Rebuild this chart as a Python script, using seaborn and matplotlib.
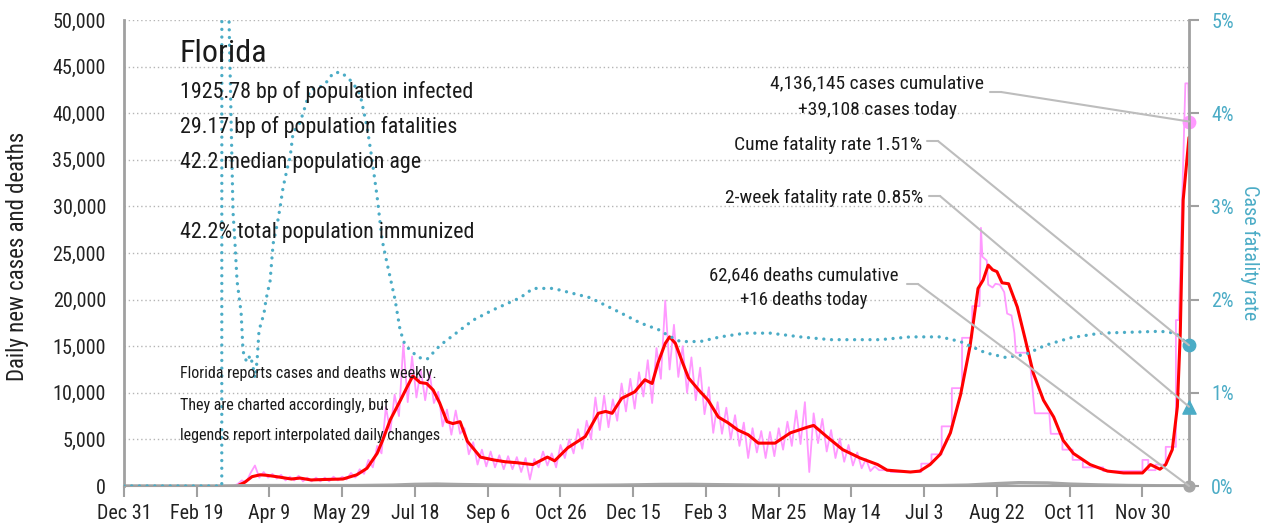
import numpy as np
import pandas as pd
import matplotlib
matplotlib.use("Agg")
import matplotlib.pyplot as plt
import seaborn as sns
from matplotlib import font_manager
from matplotlib.patches import ConnectionPatch
from matplotlib.ticker import StrMethodFormatter

# ---- data (days counted from Dec 31, 2019; case values in thousands) ----
x_tick_days = [0, 50, 100, 150, 200, 250, 300, 350, 400, 450, 500, 550, 600, 650, 700]
x_tick_labels = ["Dec 31", "Feb 19", "Apr 9", "May 29", "Jul 18", "Sep 6", "Oct 26",
                 "Dec 15", "Feb 3", "Mar 25", "May 14", "Jul 3", "Aug 22", "Oct 11", "Nov 30"]

# daily reported cases, every 3 days while reporting was daily
daily_cases_3d = [0] * 24 + [
    0, 0, 0.2, 0.6, 0.4, 1.4, 2.2, 0.9, 1.5, 0.9,
    1.3, 0.8, 1.2, 0.6, 1.0, 0.6, 1.1, 0.5, 0.9, 0.5,
    0.9, 0.5, 0.9, 0.5, 1.0, 0.6, 1.0, 0.7, 1.4, 0.9,
    1.8, 1.3, 2.8, 2.0, 4.3, 3.5, 8.5, 5.8, 9.8, 7.5,
    15.3, 9.0, 13.9, 9.5, 12.5, 9.2, 12.2, 8.9, 10.1, 6.4,
    8.2, 5.5, 8.1, 5.6, 6.2, 3.4, 4.7, 2.3, 3.9, 2.1,
    3.7, 2.0, 3.3, 1.8, 3.2, 1.8, 3.1, 1.5, 3.0, 0.7,
    2.9, 2.0, 3.7, 2.2, 3.5, 2.0, 4.4, 3.0, 5.0, 3.5,
    6.1, 4.0, 7.0, 5.0, 9.5, 6.0, 9.7, 6.3, 9.3, 7.0,
    11.0, 8.0, 11.5, 8.3, 12.2, 9.6, 13.5, 8.9, 14.8, 11.5,
    19.9, 12.5, 17.3, 11.7, 15.0, 10.0, 13.8, 9.2, 12.7, 7.7,
    10.6, 5.7, 9.0, 5.6, 8.4, 5.0, 7.6, 4.3, 6.8, 3.0,
    6.2, 3.6, 5.9, 3.0, 5.8, 3.2, 6.2, 3.9, 6.9, 4.3,
    8.1, 4.5, 9.0, 1.5, 7.8, 4.6, 7.2, 3.7, 6.0, 3.0,
    5.1, 2.6, 4.4, 2.2, 3.6, 1.9, 2.9,
]

# weekly reporting period (steps)
weekly_case_days = [513, 516, 519, 527, 527, 548, 548, 555, 555, 562,
                    562, 569, 569, 576, 576, 583, 583, 588, 589, 590,
                    593, 594, 597, 599, 602, 605, 607, 610, 612, 613,
                    622, 624, 626, 636, 637, 645, 645, 652, 652, 659,
                    659, 673, 673, 700, 700, 704, 704, 709, 709, 716,
                    716, 723, 723, 725, 729.5, 731.5, 732]
weekly_cases = [1.6, 2.1, 1.7, 1.7, 1.5, 1.5, 2.4, 2.4, 3.4, 3.4,
                6.4, 6.4, 10.5, 10.5, 15.9, 15.9, 19.3, 19.3, 27.7, 24.6,
                24.2, 21.6, 21.3, 21.7, 21.6, 20.8, 18.5, 18.3, 16.4, 14.3,
                14.3, 11.2, 7.8, 7.8, 5.6, 5.6, 3.9, 3.9, 2.8, 2.8,
                2.0, 2.0, 1.6, 1.6, 2.8, 2.8, 1.7, 1.7, 2.3, 2.3,
                4.2, 4.2, 17.8, 17.8, 43.2, 43.2, 39.1]

avg_days = [79, 83, 88, 93.5, 98, 105, 115, 121, 128.5, 138,
            150.5, 160, 167, 174, 178, 183, 190, 194.5, 198.5, 203.5,
            208, 212.5, 217, 222, 226, 231, 236, 245, 254, 262,
            270, 281, 286, 291, 296, 305, 317, 326, 331, 335.5,
            342, 351, 358, 363, 367, 372, 375, 379, 384, 388,
            395, 401.5, 408.5, 415, 422, 429, 436, 447.5, 458, 469.5,
            474, 483, 494, 506, 518, 524.5, 540.5, 547, 554, 561,
            568, 575, 581.5, 587, 590.5, 594, 597, 600, 603.5, 608,
            614, 619.5, 625, 632, 639, 645.5, 652.5, 664, 676, 687,
            700, 705.5, 712, 716, 720.5, 724, 726, 728, 732]
avg_cases = [0.1, 0.4, 1.0, 1.2, 1.15, 1.0, 0.75, 0.85, 0.65, 0.7,
             0.75, 1.2, 1.9, 3.5, 5.0, 7.1, 9.2, 10.6, 11.8, 11.1,
             11.0, 10.3, 8.9, 6.9, 6.7, 6.9, 4.8, 3.1, 2.8, 2.6,
             2.5, 2.3, 2.7, 3.1, 2.7, 4.1, 5.3, 7.8, 8.0, 7.8,
             9.4, 10.1, 11.4, 11.0, 13.2, 15.3, 16.0, 15.3, 13.2, 11.6,
             10.3, 9.2, 7.4, 6.8, 6.0, 5.5, 4.6, 4.6, 5.7, 6.3,
             6.5, 5.3, 3.9, 3.0, 2.3, 1.7, 1.5, 1.6, 2.3, 3.4,
             5.7, 9.8, 15.0, 21.2, 22.1, 23.7, 23.2, 23.0, 21.8, 21.7,
             19.2, 15.7, 12.1, 9.2, 7.4, 4.9, 3.5, 2.3, 1.6, 1.4,
             1.4, 2.3, 1.8, 2.3, 3.9, 8.5, 16.4, 30.7, 37.4]

death_days = [0, 65, 80, 100, 130, 160, 185, 200, 215, 230,
              250, 280, 310, 340, 370, 390, 410, 440, 470, 500,
              530, 560, 580, 600, 615, 635, 650, 670, 690, 710, 732]
deaths = [0, 0, 20, 45, 40, 40, 90, 170, 200, 150,
          110, 70, 60, 90, 160, 170, 130, 80, 60, 45,
          30, 35, 90, 250, 350, 320, 200, 110, 50, 25, 16]

rate_days = [0, 67.2, 67.6, 71.6, 72.2, 74.9, 76.3, 77.7, 80.5, 81.8,
             83.2, 84.6, 86.6, 88.0, 90.1, 91.5, 92.8, 94.9, 96.3, 97.6,
             100.4, 102.5, 105.2, 107.3, 109.3, 112.1, 114.2, 116.2, 121.0, 124.5,
             127.9, 134.8, 139.6, 143.7, 148.5, 153.3, 157.5, 162.3, 167.1, 170.5,
             174.0, 177.4, 180.8, 186.3, 189.8, 193.2, 202.2, 208.3, 217.3, 240.0,
             253.7, 272.3, 281.2, 295.0, 320.4, 341.1, 354.8, 368.6, 373.4, 382.3,
             396.1, 409.8, 427.0, 444.2, 464.8, 485.5, 519.8, 540.5, 561.1, 574.8,
             592.0, 605.8, 619.5, 633.3, 650.5, 671.1, 691.7, 712.4, 722.7, 732]
rate_pct = [0, 0, 40, 40, 5.0, 2.95, 2.6, 2.2, 1.86, 1.45,
            1.37, 1.33, 1.40, 1.33, 1.16, 1.35, 1.67, 1.78, 1.86, 2.0,
            2.2, 2.6, 2.8, 2.99, 3.2, 3.4, 3.53, 3.79, 3.9, 4.07,
            4.25, 4.28, 4.34, 4.43, 4.44, 4.39, 4.32, 4.2, 3.85, 3.5,
            3.1, 2.64, 2.39, 2.0, 1.67, 1.51, 1.38, 1.36, 1.51, 1.78,
            1.89, 2.02, 2.12, 2.12, 2.02, 1.86, 1.75, 1.67, 1.62, 1.55,
            1.55, 1.60, 1.64, 1.64, 1.60, 1.57, 1.57, 1.60, 1.60, 1.55,
            1.43, 1.38, 1.41, 1.51, 1.59, 1.64, 1.65, 1.66, 1.64, 1.51]

last_day = 732
cases_today = 39108
deaths_today = 16
cume_rate = 1.51
twoweek_rate = 0.85

stats_lines = ["1925.78 bp of population infected",
               "29.17 bp of population fatalities",
               "42.2 median population age",
               "42.2% total population immunized"]
note_lines = ["Florida reports cases and deaths weekly.",
              "They are charted accordingly, but",
              "legends report interpolated daily changes"]

# ---- style ----
PINK = "#ff99ff"
RED = "#ff0000"
BLUE = "#4bacc6"
GRAY = "#a6a6a6"
SPINE = "#a0a0a0"
LEAD = "#bdbdbd"

sns.set_theme(style="white")

# look for a narrow sans face; otherwise shrink DejaVu to similar widths
names = {f.name for f in font_manager.fontManager.ttflist}
narrow = [n for n in ["Liberation Sans Narrow", "Roboto Condensed", "Noto Sans Condensed",
                      "Open Sans Condensed", "DejaVu Sans Condensed", "Arial Narrow"]
          if n in names]
cond_dejavu = any(f.name == "DejaVu Sans" and "condensed" in str(f.stretch)
                  for f in font_manager.fontManager.ttflist)
if narrow:
    plt.rcParams["font.family"] = [narrow[0], "DejaVu Sans"]
    k = 1.0
elif cond_dejavu:
    plt.rcParams["font.family"] = ["DejaVu Sans"]
    plt.rcParams["font.stretch"] = "condensed"
    k = 0.88
else:
    plt.rcParams["font.family"] = ["Roboto", "DejaVu Sans"]
    k = 0.86

W, H = 1268, 527
fig = plt.figure(figsize=(W / 100, H / 100), dpi=100)
ax = fig.add_axes([124 / W, 1 - 486 / H, (1189 - 124) / W, (486 - 20) / H])
ax2 = ax.twinx()

# ---- build frames ----
daily_df = pd.DataFrame({
    "day": list(np.arange(len(daily_cases_3d)) * 3) + weekly_case_days,
    "cases": np.array(daily_cases_3d + weekly_cases) * 1000,
})
avg_df = pd.DataFrame({"day": avg_days, "cases": np.array(avg_cases) * 1000})
death_df = pd.DataFrame({"day": death_days, "deaths": deaths})
rate_df = pd.DataFrame({"day": rate_days, "rate": rate_pct})

ax.yaxis.grid(True, linestyle=(0, (1, 2)), color="#b5b5b5", lw=1)
ax.set_axisbelow(True)

sns.lineplot(data=daily_df, x="day", y="cases", ax=ax, color=PINK, lw=1.3,
             estimator=None, sort=False)
sns.lineplot(data=avg_df, x="day", y="cases", ax=ax, color=RED, lw=2.2,
             estimator=None, sort=False)
sns.lineplot(data=death_df, x="day", y="deaths", ax=ax, color=GRAY, lw=2.5,
             estimator=None, sort=False)
sns.lineplot(data=rate_df, x="day", y="rate", ax=ax2, color=BLUE, lw=2.4,
             linestyle=(0, (0.01, 2.3)), dash_capstyle="round",
             estimator=None, sort=False)

ax.scatter([last_day], [cases_today], s=80, color=PINK, clip_on=False, zorder=6)
ax2.scatter([last_day], [cume_rate], s=80, color=BLUE, clip_on=False, zorder=6)
ax2.scatter([last_day], [twoweek_rate], s=90, marker="^", color=BLUE, clip_on=False, zorder=6)
ax2.scatter([last_day], [0], s=60, color=GRAY, clip_on=False, zorder=6)

# ---- axes ----
ax.set_xlim(0, last_day)
ax.set_ylim(0, 50000)
ax2.set_ylim(0, 5)
ax.set_xticks(x_tick_days)
ax.set_xticklabels(x_tick_labels)
ax.set_yticks(range(0, 50001, 5000))
ax.yaxis.set_major_formatter(StrMethodFormatter("{x:,.0f}"))
ax2.set_yticks(range(0, 6))
ax2.yaxis.set_major_formatter(StrMethodFormatter("{x:.0f}%"))
ax.set_xlabel("")
ax.set_ylabel("")
ax2.set_ylabel("")

for a in (ax, ax2):
    for s in a.spines.values():
        s.set_visible(False)
ax.spines["left"].set_visible(True)
ax.spines["left"].set_color(SPINE)
ax.spines["left"].set_linewidth(2)
ax.spines["bottom"].set_visible(True)
ax.spines["bottom"].set_color(SPINE)
ax.spines["bottom"].set_linewidth(1.5)
ax2.spines["right"].set_visible(True)
ax2.spines["right"].set_color(SPINE)
ax2.spines["right"].set_linewidth(2)

ax.tick_params(axis="x", direction="out", length=8, width=1.5, color=SPINE,
               labelsize=14.5 * k, labelcolor="#222222", pad=5, bottom=True)
ax.tick_params(axis="y", length=0, labelsize=14.5 * k, labelcolor="#222222", pad=13)
ax2.tick_params(axis="y", direction="out", length=7, width=1.5, color=SPINE,
                labelsize=14.5 * k, labelcolor=BLUE, pad=9, right=True)

fig.text(18 / W, 1 - 256 / H, "Daily new cases and deaths", rotation=90,
         ha="center", va="center", fontsize=16.5 * k, color="#222222")
fig.text(1250 / W, 1 - 253 / H, "Case fatality rate", rotation=270,
         ha="center", va="center", fontsize=14.5 * k, color=BLUE)


# ---- texts ----
def ftext(x, y, s, size, **kw):
    fig.text(x / W, 1 - y / H, s, va="baseline", color="#1a1a1a", fontsize=size * k, **kw)


ftext(180, 62, "Florida", 23)
for y, line in zip([98, 133, 168, 238], stats_lines):
    ftext(180, y, line, 15.8)
for y, line in zip([378, 410, 440], note_lines):
    ftext(180, y, line, 11.5)

ftext(877, 88, "4,136,145 cases cumulative", 14, ha="center")
ftext(877, 115, "+39,108 cases today", 14, ha="center")
ftext(922, 150, f"Cume fatality rate {cume_rate:.2f}%", 14, ha="right")
ftext(923, 203, f"2-week fatality rate {twoweek_rate:.2f}%", 14, ha="right")
ftext(804, 280, "62,646 deaths cumulative", 13.5, ha="center")
ftext(804, 305, "+16 deaths today", 13.5, ha="center")


def leader(x0, y0, target, axes):
    stub = ConnectionPatch(xyA=(x0, H - y0), coordsA="figure pixels",
                           xyB=(x0 + 11, H - y0), coordsB="figure pixels",
                           color=LEAD, lw=1.5)
    diag = ConnectionPatch(xyA=(x0 + 11, H - y0), coordsA="figure pixels",
                           xyB=target, coordsB="data", axesB=axes,
                           color=LEAD, lw=1.5)
    fig.add_artist(stub)
    fig.add_artist(diag)


leader(990, 92, (last_day, cases_today), ax)
leader(927, 141, (last_day, cume_rate), ax2)
leader(929, 196, (last_day, twoweek_rate), ax2)
leader(907, 284, (last_day, 0), ax)

fig.savefig("out.png", dpi=100)
